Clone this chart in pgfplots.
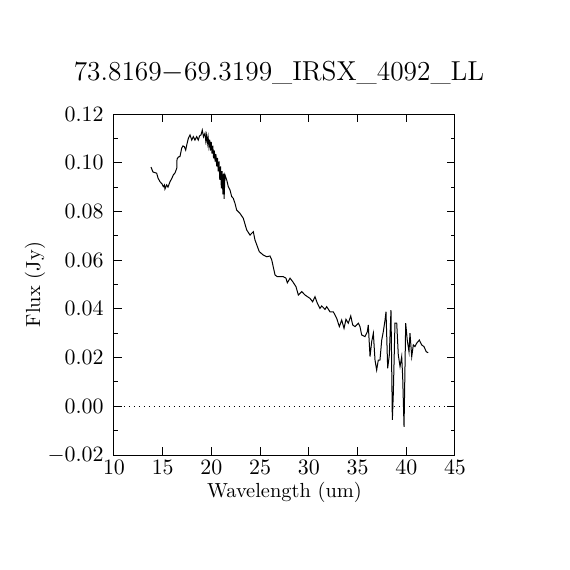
\documentclass[border=0pt]{standalone}
\usepackage{pgfplots}
\pgfplotsset{compat=1.18}
\begin{document}
\begin{tikzpicture}
\useasboundingbox[fill=white] (-57pt,-57.5pt) rectangle (228pt,227.5pt);
\begin{axis}[
  at={(0,0)}, anchor=south west,
  scale only axis, width=170.5pt, height=170.5pt,
  xmin=10, xmax=45, ymin=-0.02, ymax=0.12,
  xtick={10,15,...,45},
  ytick={-0.02,0,0.02,0.04,0.06,0.08,0.10,0.12},
  minor y tick num=1,
  tick align=inside,
  major tick length=4pt, minor tick length=2.2pt,
  every tick/.style={black, line width=0.5pt},
  axis line style={line width=0.5pt},
  yticklabel style={/pgf/number format/fixed, /pgf/number format/fixed zerofill, /pgf/number format/precision=2, inner sep=0pt, xshift=-5pt, font=\fontsize{10.5}{12}\selectfont},
  xticklabel style={inner sep=0pt, yshift=-2.5pt, font=\fontsize{10.5}{12}\selectfont},
  scaled y ticks=false,
  xlabel={Wavelength (um)}, ylabel={Flux (Jy)},
  xlabel style={at={(axis description cs:0.5,-0.1085)}, anchor=center, inner sep=0pt, font=\fontsize{10.2}{12}\selectfont},
  ylabel style={at={(axis description cs:-0.2317,0.5)}, anchor=center, rotate=0, inner sep=0pt, font=\fontsize{10.2}{12}\selectfont},
  title={73.8169$-$69.3199\_IRSX\_4092\_LL},
  title style={at={(axis description cs:0.5,1)}, anchor=center, yshift=14.5pt, xshift=-2.75pt, inner sep=0pt, font=\fontsize{13.7}{16}\selectfont},
]
\addplot[black, dotted, line width=0.5pt] coordinates {(10,0) (45,0)};
\addplot[black, line width=0.5pt] coordinates {
(13.80,0.0982) (14.00,0.0962) (14.38,0.0957) (14.52,0.0937) (14.72,0.0922)
(14.93,0.0913) (15.06,0.0902) (15.18,0.0909) (15.23,0.0892) (15.41,0.0909)
(15.54,0.0900) (15.75,0.0922) (15.95,0.0937) (16.09,0.0950) (16.26,0.0958)
(16.44,0.0977) (16.47,0.1015) (16.62,0.1024) (16.77,0.1025) (16.95,0.1060)
(17.08,0.1069) (17.22,0.1066) (17.36,0.1052) (17.49,0.1077) (17.63,0.1100)
(17.80,0.1114) (17.98,0.1093) (18.14,0.1107) (18.31,0.1093) (18.49,0.1107)
(18.65,0.1093) (18.78,0.1110) (18.93,0.1114) (19.06,0.1134) (19.19,0.1106)
(19.34,0.1121) (19.42,0.1090) (19.50,0.1113) (19.58,0.1080) (19.66,0.1105)
(19.74,0.1068) (19.82,0.1095) (19.90,0.1050) (19.98,0.1085) (20.06,0.1038)
(20.14,0.1070) (20.22,0.1018) (20.30,0.1050) (20.38,0.1005) (20.46,0.1035)
(20.54,0.0985) (20.62,0.1020) (20.70,0.0965) (20.78,0.1005) (20.86,0.0930)
(20.94,0.0985) (21.02,0.0895) (21.10,0.0965) (21.18,0.0870) (21.26,0.0955)
(21.30,0.0852) (21.39,0.0950)
(21.57,0.0929) (21.73,0.0902) (21.91,0.0888)
(22.08,0.0861) (22.24,0.0854) (22.42,0.0833) (22.59,0.0806) (22.93,0.0792)
(23.27,0.0772) (23.62,0.0724) (23.96,0.0703) (24.30,0.0717) (24.47,0.0683)
(24.91,0.0635) (25.32,0.0621) (25.67,0.0614) (26.01,0.0617) (26.19,0.0601)
(26.53,0.0539) (26.76,0.0532) (27.38,0.0532) (27.65,0.0526) (27.79,0.0507)
(28.07,0.0526) (28.34,0.0512) (28.68,0.0491) (28.92,0.0457) (29.27,0.0471)
(29.60,0.0457) (30.12,0.0443) (30.39,0.0429) (30.63,0.0450) (30.87,0.0423)
(31.14,0.0402) (31.32,0.0412) (31.66,0.0398) (31.83,0.0409) (32.17,0.0388)
(32.51,0.0388) (32.86,0.0361) (33.13,0.0327) (33.37,0.0354) (33.61,0.0320)
(33.81,0.0357) (34.05,0.0341) (34.30,0.0371) (34.50,0.0334) (34.74,0.0327)
(35.08,0.0341) (35.25,0.0327) (35.42,0.0293) (35.76,0.0286) (36.00,0.0306)
(36.10,0.0334) (36.28,0.0204) (36.45,0.0265) (36.62,0.0300) (36.79,0.0190)
(36.96,0.0149) (37.13,0.0190) (37.30,0.0190) (37.48,0.0272) (37.64,0.0306)
(37.82,0.0354) (37.92,0.0388) (38.09,0.0156) (38.26,0.0211) (38.43,0.0395)
(38.57,-0.0056) (38.67,0.0053) (38.84,0.0341) (39.02,0.0341) (39.18,0.0211)
(39.36,0.0163) (39.53,0.0204) (39.63,0.0122) (39.77,-0.0084) (39.94,0.0341)
(40.10,0.0272) (40.28,0.0224) (40.38,0.0300) (40.56,0.0204) (40.72,0.0252)
(40.89,0.0245) (41.07,0.0259) (41.34,0.0272) (41.58,0.0252) (41.82,0.0245)
(42.05,0.0224) (42.25,0.0220)
};
\end{axis}
\end{tikzpicture}
\end{document}
